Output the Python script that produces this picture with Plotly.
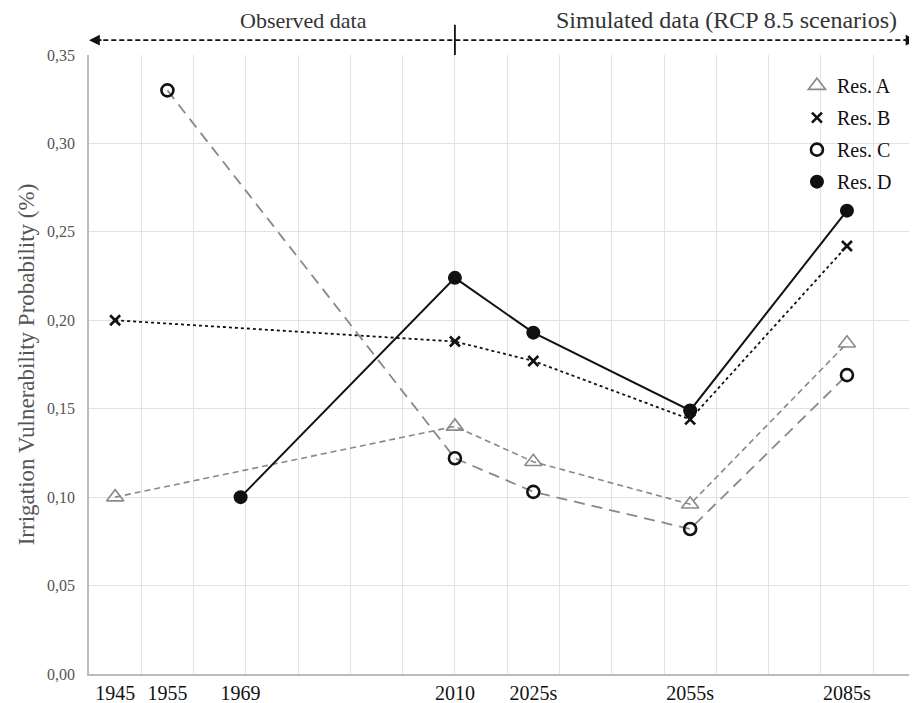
import plotly.graph_objects as go

years_ab = [1945, 2010, 2025, 2055, 2085]
res_a = [0.100, 0.140, 0.120, 0.096, 0.187]
res_b = [0.200, 0.188, 0.177, 0.144, 0.242]
years_c = [1955, 2010, 2025, 2055, 2085]
res_c = [0.330, 0.122, 0.103, 0.082, 0.169]
years_d = [1969, 2010, 2025, 2055, 2085]
res_d = [0.100, 0.224, 0.193, 0.149, 0.262]

tick_vals = [1945, 1955, 1969, 2010, 2025, 2055, 2085]
tick_text = ["1945", "1955", "1969", "2010", "2025s", "2055s", "2085s"]
grid_years = list(range(1940, 2100, 10))

FONT = "Liberation Serif"

fig = go.Figure()

series = [
    ("Res. A", years_ab, res_a, dict(color="#888888", width=1.6, dash="6px,4px"),
     dict(symbol="triangle-up-open", size=15, color="#8a8a8a", line=dict(width=1.6, color="#8a8a8a"))),
    ("Res. B", years_ab, res_b, dict(color="#111111", width=1.8, dash="dot"),
     dict(symbol="x-thin-open", size=10, color="#111111", line=dict(width=2.6, color="#111111"))),
    ("Res. C", years_c, res_c, dict(color="#888888", width=1.8, dash="11px,7px"),
     dict(symbol="circle-open", size=12, color="#111111", line=dict(width=2.6, color="#111111"))),
    ("Res. D", years_d, res_d, dict(color="#111111", width=2),
     dict(symbol="circle", size=14, color="#111111")),
]

for name, xs, ys, ln, mk in series:
    fig.add_trace(go.Scatter(x=xs, y=ys, mode="lines+markers", line=ln, marker=mk,
                             name=name, showlegend=False))
for name, xs, ys, ln, mk in series:
    fig.add_trace(go.Scatter(x=[None], y=[None], mode="markers", marker=mk, name=name,
                             legendgroup=name, showlegend=True))

fig.update_layout(
    width=909, height=703,
    margin=dict(l=81, r=0, t=47, b=37),
    plot_bgcolor="white", paper_bgcolor="white",
    separators=",.",
    font=dict(family=FONT, color="#222222"),
    legend=dict(x=0.855, y=0.982, xanchor="left", yanchor="top",
                font=dict(family=FONT, size=20, color="#111111"),
                bgcolor="rgba(0,0,0,0)", tracegroupgap=3, itemwidth=30),
    xaxis=dict(range=[1940, 2098.4], tickmode="array", tickvals=tick_vals, ticktext=tick_text,
               showgrid=False, zeroline=False, showline=True, linecolor="#bbbbbb", linewidth=1.5,
               ticks="", ticklabelstandoff=0, tickfont=dict(family=FONT, size=20, color="#111111"),
               minor=dict(tickmode="array", tickvals=grid_years, showgrid=True,
                          gridcolor="#e2e2e2", gridwidth=1, ticks="")),
    yaxis=dict(range=[0, 0.35], dtick=0.05, tickformat=".2f", showgrid=True, gridcolor="#e2e2e2",
               zeroline=False, showline=True, linecolor="#bbbbbb", linewidth=1.5, ticks="",
               ticklen=0, ticklabelstandoff=9, tickfont=dict(family=FONT, size=16, color="#555555"),
               title=dict(text="Irrigation Vulnerability Probability (%)",
                          font=dict(family=FONT, size=23, color="#555555"), standoff=6)),
)

# top header: dashed double arrow, divider and labels
fig.add_shape(type="line", xref="x", yref="paper", x0=1941.2, x1=2097.2, y0=1.024, y1=1.024,
              line=dict(color="#111111", width=1.8, dash="5px,3px"))
fig.add_shape(type="line", xref="x", yref="paper", x0=2010, x1=2010, y0=1.0, y1=1.049,
              line=dict(color="#111111", width=1.8))
fig.add_annotation(x=1940, y=1.024, xref="x", yref="paper", ax=14, ay=0,
                   axref="pixel", ayref="pixel", text="", showarrow=True, arrowhead=2,
                   arrowsize=1.2, arrowwidth=1.8, arrowcolor="#111111")
fig.add_annotation(x=2098.3, y=1.024, xref="x", yref="paper", ax=-14, ay=0,
                   axref="pixel", ayref="pixel", text="", showarrow=True, arrowhead=2,
                   arrowsize=1.2, arrowwidth=1.8, arrowcolor="#111111")
fig.add_annotation(x=1981, y=1.0565, xref="x", yref="paper", text="Observed data",
                   showarrow=False, yanchor="middle",
                   font=dict(family=FONT, size=22, color="#333333"))
fig.add_annotation(x=2062, y=1.0565, xref="x", yref="paper",
                   text="Simulated data (RCP 8.5 scenarios)", showarrow=False, yanchor="middle",
                   font=dict(family=FONT, size=24, color="#333333"))

fig.write_html("out.html")
